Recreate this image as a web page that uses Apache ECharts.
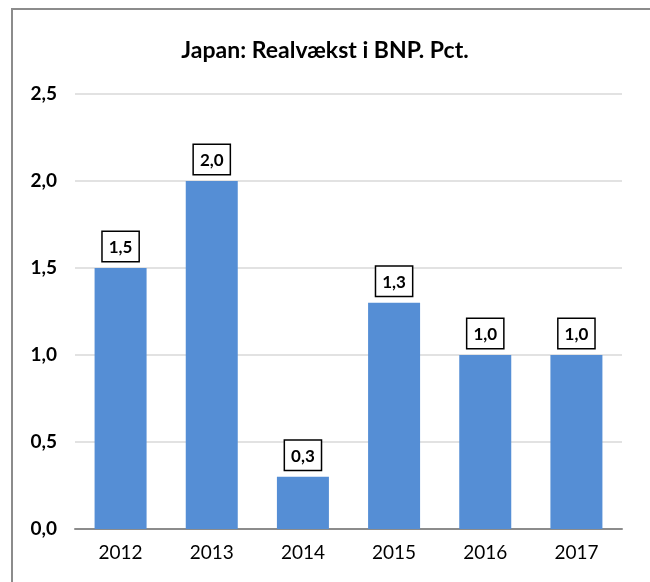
<!DOCTYPE html>
<html>
<head>
<meta charset="utf-8">
<script src="https://cdn.jsdelivr.net/npm/echarts@6/dist/echarts.min.js"></script>
<style>
  html, body { margin: 0; padding: 0; background: #fff; }
  #wrap { position: relative; width: 650px; height: 582px; overflow: hidden; }
  #frame { position: absolute; left: 11px; top: 8px; width: 700px; height: 640px;
           border-left: 2px solid #8c8c8c; border-top: 2px solid #8c8c8c; }
  #chart { position: absolute; left: 0; top: 0; width: 650px; height: 582px; }
</style>
</head>
<body>
<div id="wrap">
  <div id="frame"></div>
  <div id="chart"></div>
</div>
<script>
const years = ['2012', '2013', '2014', '2015', '2016', '2017']
const growth = [1.5, 2.0, 0.3, 1.3, 1.0, 1.0]
const fnt = 'Lato, "Open Sans", sans-serif'
const comma = v => v.toFixed(1).replace('.', ',')

const chart = echarts.init(document.getElementById('chart'))
const option = {
  animation: false,
  title: {
    text: 'Japan: Realvækst i BNP. Pct.',
    left: 'center',
    top: 34,
    textStyle: { fontFamily: fnt, fontSize: 23, fontWeight: 'bold', color: '#000' }
  },
  grid: { left: 75, right: 28, top: 94, bottom: 53 },
  xAxis: {
    type: 'category',
    data: years,
    axisTick: { show: false },
    axisLine: { lineStyle: { color: '#8c8c8c', width: 2 } },
    axisLabel: { fontFamily: fnt, fontSize: 19, color: '#000', margin: 14 }
  },
  yAxis: {
    type: 'value',
    min: 0, max: 2.5, interval: 0.5,
    axisLine: { show: false },
    axisTick: { show: false },
    splitLine: { lineStyle: { color: '#d9d9d9', width: 1.5 } },
    axisLabel: {
      fontFamily: fnt, fontSize: 19, fontWeight: 'bold', color: '#000', margin: 18,
      formatter: v => comma(v)
    }
  },
  series: [{
    type: 'bar',
    data: growth,
    barWidth: 52,
    itemStyle: { color: '#558ed5' },
    label: {
      show: true,
      position: 'top',
      distance: 7,
      formatter: p => comma(p.value),
      fontFamily: fnt, fontSize: 17, fontWeight: 'bold', color: '#000',
      backgroundColor: '#fff',
      borderColor: '#000', borderWidth: 1.5,
      padding: [7, 6, 5, 6]
    }
  }]
}
chart.setOption(option)
</script>
</body>
</html>
